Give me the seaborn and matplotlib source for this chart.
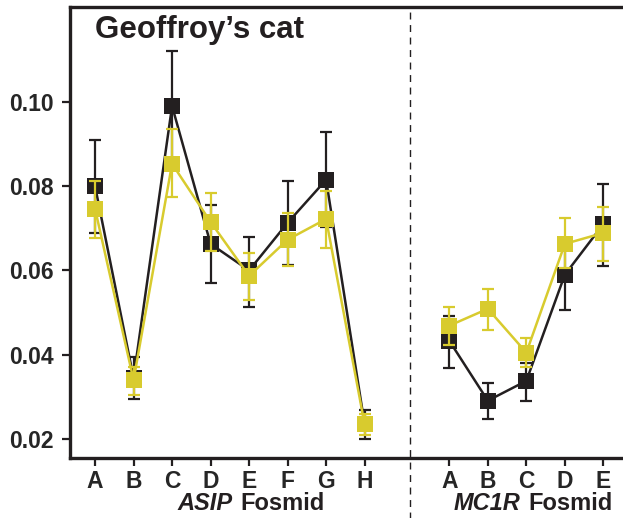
import numpy as np
import pandas as pd
import seaborn as sns
import matplotlib.pyplot as plt

# ASIP fosmid probes (A-H) and MC1R fosmid probes (A-E)
asip_labels = ['A', 'B', 'C', 'D', 'E', 'F', 'G', 'H']
mc1r_labels = ['A', 'B', 'C', 'D', 'E']

# black series: mean, lower, upper
asip_black = [0.0800, 0.0345, 0.0990, 0.0663, 0.0600, 0.0713, 0.0815, 0.0235]
asip_black_lo = [0.0689, 0.0295, 0.0853, 0.0571, 0.0514, 0.0613, 0.0703, 0.0200]
asip_black_hi = [0.0910, 0.0395, 0.1120, 0.0756, 0.0680, 0.0813, 0.0929, 0.0270]
mc1r_black = [0.0433, 0.0291, 0.0338, 0.0590, 0.0710]
mc1r_black_lo = [0.0369, 0.0248, 0.0290, 0.0507, 0.0611]
mc1r_black_hi = [0.0492, 0.0334, 0.0380, 0.0660, 0.0805]

# yellow series: mean, lower, upper
asip_yellow = [0.0746, 0.0340, 0.0853, 0.0715, 0.0587, 0.0673, 0.0722, 0.0235]
asip_yellow_lo = [0.0677, 0.0305, 0.0775, 0.0645, 0.0530, 0.0610, 0.0654, 0.0210]
asip_yellow_hi = [0.0813, 0.0370, 0.0936, 0.0784, 0.0642, 0.0737, 0.0789, 0.0260]
mc1r_yellow = [0.0469, 0.0509, 0.0405, 0.0663, 0.0689]
mc1r_yellow_lo = [0.0424, 0.0459, 0.0370, 0.0605, 0.0623]
mc1r_yellow_hi = [0.0514, 0.0556, 0.0440, 0.0725, 0.0751]

BLACK = '#231f20'
YELLOW = '#d8cb2e'

asip_pos = np.arange(len(asip_labels))
mc1r_pos = np.arange(len(mc1r_labels)) + 9.2
sep_pos = 8.18

sns.set_style('ticks')
plt.rcParams['font.family'] = ['Liberation Sans', 'DejaVu Sans']
plt.rcParams['font.weight'] = 'bold'

rows = []
for name, pos, vals in [('ASIP', asip_pos, asip_black), ('MC1R', mc1r_pos, mc1r_black)]:
    for p, v in zip(pos, vals):
        rows.append({'pos': p, 'value': v, 'series': 'black', 'fosmid': name})
for name, pos, vals in [('ASIP', asip_pos, asip_yellow), ('MC1R', mc1r_pos, mc1r_yellow)]:
    for p, v in zip(pos, vals):
        rows.append({'pos': p, 'value': v, 'series': 'yellow', 'fosmid': name})
df = pd.DataFrame(rows)

fig = plt.figure(figsize=(6.23, 5.18), dpi=100)
ax = fig.add_axes([0.1124, 0.1158, 0.8876, 0.8707])

# error bars first, then lines with square markers
for pos, m, lo, hi, c, z in [
        (asip_pos, asip_black, asip_black_lo, asip_black_hi, BLACK, 2),
        (mc1r_pos, mc1r_black, mc1r_black_lo, mc1r_black_hi, BLACK, 2),
        (asip_pos, asip_yellow, asip_yellow_lo, asip_yellow_hi, YELLOW, 4),
        (mc1r_pos, mc1r_yellow, mc1r_yellow_lo, mc1r_yellow_hi, YELLOW, 4)]:
    m = np.array(m)
    err = [m - np.array(lo), np.array(hi) - m]
    ax.errorbar(pos, m, yerr=err, fmt='none', ecolor=c, elinewidth=1.6,
                capsize=4.5, capthick=1.6, zorder=z)

sns.lineplot(data=df, x='pos', y='value', hue='series', units='fosmid',
             estimator=None, palette={'black': BLACK, 'yellow': YELLOW},
             marker='s', markersize=11.5, markeredgewidth=0, linewidth=1.8,
             legend=False, ax=ax, zorder=3)
# keep yellow above black
for line in ax.get_lines():
    if line.get_color() == YELLOW:
        line.set_zorder(5)

ax.set_xlim(-0.65, 13.71)
ax.set_ylim(0.0155, 0.1225)
ax.set_yticks([0.02, 0.04, 0.06, 0.08, 0.10])
ax.set_yticklabels(['0.02', '0.04', '0.06', '0.08', '0.10'])
ax.set_xticks(list(asip_pos) + list(mc1r_pos))
ax.set_xticklabels(asip_labels + mc1r_labels)
ax.tick_params(axis='both', labelsize=16.5, width=1.6, length=6, color=BLACK)
ax.tick_params(axis='y', pad=6)
ax.tick_params(axis='x', pad=2.5)
ax.set_xlabel('')
ax.set_ylabel('')

for s in ['left', 'bottom', 'top']:
    ax.spines[s].set_linewidth(2.4)
    ax.spines[s].set_color(BLACK)
ax.spines['right'].set_visible(False)

ax.axvline(sep_pos, ymin=-0.135, ymax=1, color=BLACK, linestyle=(0, (5, 4)),
           linewidth=1.0, clip_on=False)

ax.text(0.0, 0.1170, "Geoffroy\u2019s cat", fontsize=22.5, fontweight='bold',
        ha='left', va='center', color=BLACK)

# axis labels: gene name in italic, then "Fosmid"
tr = ax.get_xaxis_transform()
lab_y = -0.1153
ax.text(3.56, lab_y, 'ASIP', fontsize=17, fontweight='bold', style='italic',
        ha='right', va='baseline', transform=tr, color=BLACK)
ax.text(3.77, lab_y, 'Fosmid', fontsize=17, fontweight='bold',
        ha='left', va='baseline', transform=tr, color=BLACK)
ax.text(11.04, lab_y, 'MC1R', fontsize=17, fontweight='bold', style='italic',
        ha='right', va='baseline', transform=tr, color=BLACK)
ax.text(11.25, lab_y, 'Fosmid', fontsize=17, fontweight='bold',
        ha='left', va='baseline', transform=tr, color=BLACK)

fig.savefig('out.png', dpi=100)
